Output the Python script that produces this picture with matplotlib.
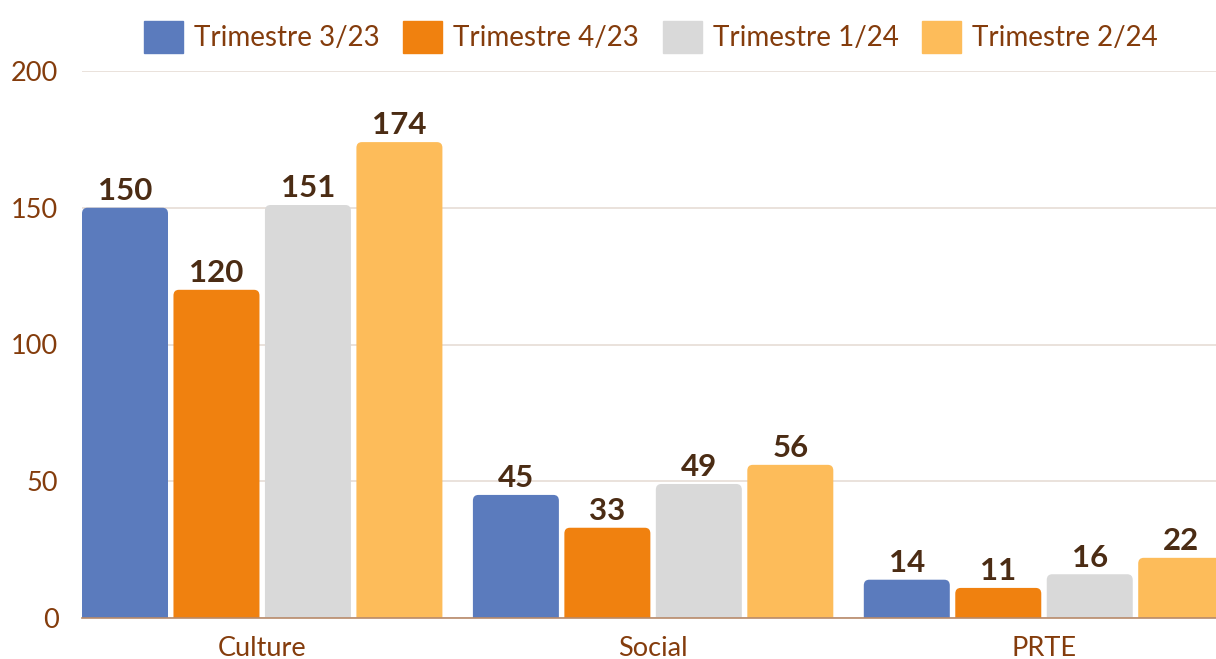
import matplotlib.pyplot as plt
import numpy as np
from matplotlib.patches import FancyBboxPatch

categories = ["Culture", "Social", "PRTE"]
series_names = ["Trimestre 3/23", "Trimestre 4/23", "Trimestre 1/24", "Trimestre 2/24"]
values_t3_23 = [150, 45, 14]
values_t4_23 = [120, 33, 11]
values_t1_24 = [151, 49, 16]
values_t2_24 = [174, 56, 22]
colors = ["#5B7BBD", "#F0810F", "#D9D9D9", "#FDBC5A"]

all_values = [values_t3_23, values_t4_23, values_t1_24, values_t2_24]

plt.rcParams["font.family"] = ["Lato", "DejaVu Sans"]
tick_color = "#843C0C"
label_color = "#4B2C14"

fig = plt.figure(figsize=(12.16, 6.59), dpi=100)
ax = fig.add_axes([82 / 1216, 41 / 659, (1216 - 82) / 1216, 547 / 659])

x = np.arange(len(categories))
step = 0.234
width = 0.22

for i, (name, vals, col) in enumerate(zip(series_names, all_values, colors)):
    bars = ax.bar(x + (i - 1.5) * step, vals, width, color=col, label=name)
    for rect, v in zip(bars, vals):
        # swap plain rect for one with rounded top corners
        bx, bw, bh = rect.get_x(), rect.get_width(), rect.get_height()
        rect.set_visible(False)
        patch = FancyBboxPatch((bx, -5), bw, bh + 5,
                               boxstyle="round,pad=0,rounding_size=0.014",
                               mutation_aspect=150, facecolor=col,
                               edgecolor="none", zorder=2, clip_on=True)
        ax.add_patch(patch)
        ax.text(bx + bw / 2, bh + 1.0, str(v), ha="center", va="bottom",
                fontsize=22.5, fontweight="bold", color=label_color, zorder=3)

ax.set_xlim(-0.461, 2.44)
ax.set_ylim(0, 200)
ax.set_yticks([0, 50, 100, 150, 200])
ax.set_xticks(x)
ax.set_xticklabels(categories)
ax.grid(axis="y", color="#E6DDD6", linewidth=1.2, zorder=0)
ax.set_axisbelow(True)
for s in ["top", "right", "left"]:
    ax.spines[s].set_visible(False)
ax.spines["bottom"].set_color("#B88A6A")
ax.spines["bottom"].set_linewidth(1.2)
ax.tick_params(axis="both", length=0, labelsize=19.5, colors=tick_color)
ax.tick_params(axis="y", pad=17)
ax.tick_params(axis="x", pad=13)

handles = [plt.Rectangle((0, 0), 1, 1, color=c) for c in colors]
leg = fig.legend(handles, series_names, loc="center", bbox_to_anchor=(651 / 1216, 1 - 37 / 659),
                 ncol=4, frameon=False, fontsize=20, handlelength=1.4, handleheight=1.4,
                 columnspacing=0.85, handletextpad=0.4)
for t in leg.get_texts():
    t.set_color(tick_color)

fig.savefig("out.png", dpi=100)
